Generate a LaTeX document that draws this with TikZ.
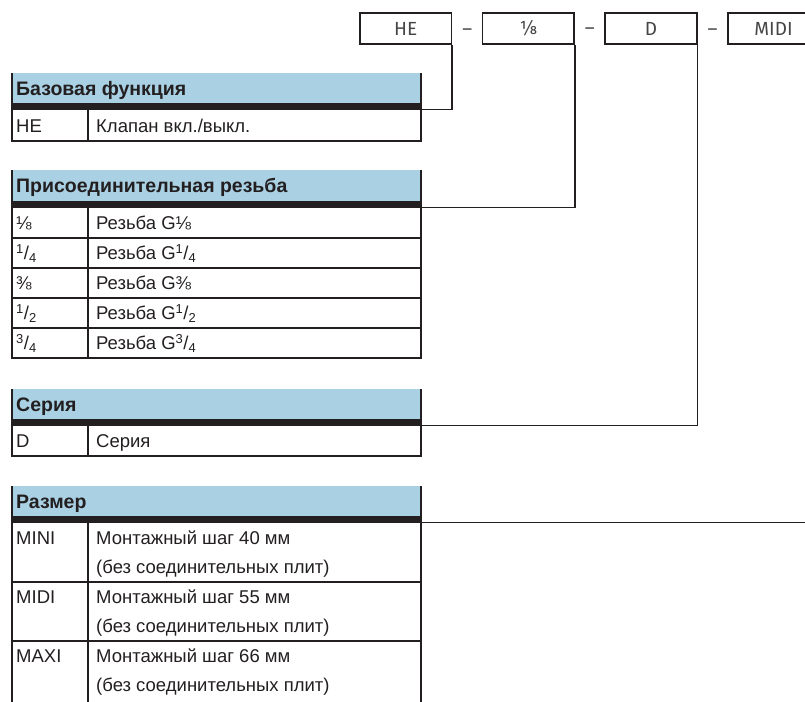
\documentclass[tikz,border=0pt]{standalone}
\usepackage{fontspec}
\setmainfont{Liberation Sans}
\newfontfamily\codefont{Fira Sans}
\usetikzlibrary{positioning}

\definecolor{hdrblue}{RGB}{169,209,227}
\definecolor{barblack}{RGB}{35,31,32}
\definecolor{linegray}{RGB}{35,31,32}
\definecolor{textgray}{RGB}{35,31,32}
\definecolor{codegray}{RGB}{70,70,70}

\tikzset{
  codebox/.style={draw=linegray, line width=1.6pt, minimum width=91.5pt, minimum height=31pt, inner sep=0pt, font=\codefont\fontsize{19}{22}\selectfont, text=codegray},
  codedash/.style={minimum width=29.5pt, inner sep=0pt, font=\codefont\fontsize{19}{22}\selectfont, text=codegray},
  hdrtxt/.style={anchor=base west, inner sep=0pt, font=\bfseries\fontsize{19.5}{23}\selectfont, text=textgray},
  celltxt/.style={anchor=base west, inner sep=0pt, font=\fontsize{18.5}{22}\selectfont, text=textgray},
  tblline/.style={line width=1.8pt, draw=linegray},
  rowline/.style={line width=1.3pt, draw=linegray},
  link/.style={line width=1.8pt, draw=linegray}
}

\begin{document}
\begin{tikzpicture}[x=1pt,y=-1pt]
\useasboundingbox (0,0) rectangle (805,701);
\clip (0,0) rectangle (805,701);

% order code boxes
\node[codebox] (he) at (405.75,28.5) {HE};
\node[codebox, right=29.5pt of he] (eighth) {⅛};
\node[codebox, right=29.5pt of eighth] (ser) {D};
\node[codebox, right=29.5pt of ser] (size) {MIDI};
\node[codedash, base right=0pt of he] (dash1) {–};
\node[codedash, base right=0pt of eighth] (dash2) {–};
\node[codedash, base right=0pt of ser] (dash3) {–};

% Базовая функция
\fill[hdrblue] (12,73) rectangle (421,103);
\fill[barblack] (12,103) rectangle (421,110);
\node[hdrtxt] (basehdr) at (16,95) {Базовая функция};
\coordinate (basebar) at (421,109.5);
\node[celltxt] (basekey) at (16,132) {HE};
\node[celltxt] (baseval) at (96,132) {Клапан вкл./выкл.};
\draw[tblline] (12,73) -- (12,141) -- (421,141) -- (421,73);
\draw[tblline] (88,110) -- (88,141);

% Присоединительная резьба
\fill[hdrblue] (12,170) rectangle (421,201);
\fill[barblack] (12,201) rectangle (421,208);
\node[hdrtxt] (threadhdr) at (16,192.5) {Присоединительная резьба};
\coordinate (threadbar) at (421,207.5);
\foreach \i/\top/\k/\v in {1/208/{⅛}/{Резьба G⅛},
    2/238/{\textsuperscript{1}/\textsubscript{4}}/{Резьба G\textsuperscript{1}/\textsubscript{4}},
    3/268/{⅜}/{Резьба G⅜},
    4/298/{\textsuperscript{1}/\textsubscript{2}}/{Резьба G\textsuperscript{1}/\textsubscript{2}},
    5/328/{\textsuperscript{3}/\textsubscript{4}}/{Резьба G\textsuperscript{3}/\textsubscript{4}}}{
  \node[celltxt] (threadkey\i) at (16,\top+21.5) {\k};
  \node[celltxt] (threadval\i) at (96,\top+21.5) {\v};
}
\foreach \top in {238,268,298,328}
  \draw[rowline] (12,\top) -- (421,\top);
\draw[tblline] (12,170) -- (12,358) -- (421,358) -- (421,170);
\draw[tblline] (88,208) -- (88,358);

% Серия
\fill[hdrblue] (12,389) rectangle (421,419);
\fill[barblack] (12,419) rectangle (421,426);
\node[hdrtxt] (serhdr) at (16,411) {Серия};
\coordinate (serbar) at (421,425.5);
\node[celltxt] (serkey) at (16,447.5) {D};
\node[celltxt] (serval) at (96,447.5) {Серия};
\draw[tblline] (12,389) -- (12,456) -- (421,456) -- (421,389);
\draw[tblline] (88,426) -- (88,456);

% Размер
\fill[hdrblue] (12,486) rectangle (421,516);
\fill[barblack] (12,516) rectangle (421,523);
\node[hdrtxt] (sizehdr) at (16,508) {Размер};
\coordinate (sizebar) at (421,522.5);
\foreach \i/\top/\k/\v in {1/523/MINI/40, 2/582/MIDI/55, 3/641/MAXI/66}{
  \node[celltxt] (sizekey\i) at (16,\top+21) {\k};
  \node[celltxt] (sizeval\i) at (96,\top+21) {Монтажный шаг \v\ мм};
  \node[celltxt] (sizenote\i) at (96,\top+50) {(без соединительных плит)};
}
\foreach \top in {582,641}
  \draw[rowline] (12,\top) -- (421,\top);
\draw[tblline] (12,486) -- (12,710);
\draw[tblline] (421,486) -- (421,710);
\draw[tblline] (88,523) -- (88,710);

% links
\draw[link] (he.south east) |- (basebar);
\draw[link] (eighth.south east) |- (threadbar);
\draw[link] (ser.south east) |- (serbar);
\draw[link] (size.south east) |- (sizebar);
\end{tikzpicture}
\end{document}
